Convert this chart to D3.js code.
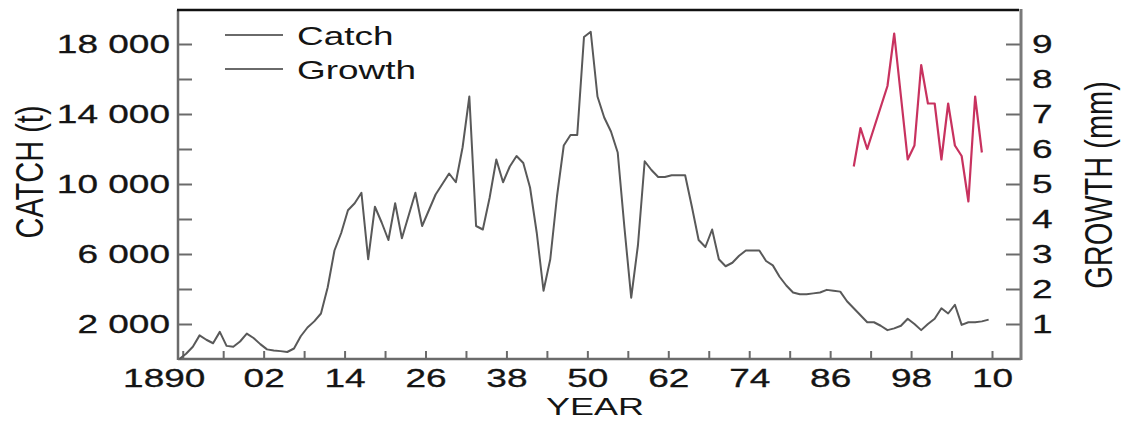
<!DOCTYPE html>
<html>
<head>
<meta charset="utf-8">
<script src="https://cdn.jsdelivr.net/npm/d3@7"></script>
<style>
  html, body { margin: 0; padding: 0; background: #fff; }
  svg { display: block; font-family: "Liberation Sans", Arial, sans-serif; }
</style>
</head>
<body>
<svg id="chart" width="1121" height="421"></svg>
<script>
// Annual catch (tonnes), 1889–2009
const catchYears = [
  1889,
  1890, 1891, 1892, 1893, 1894, 1895, 1896, 1897, 1898, 1899,
  1900, 1901, 1902, 1903, 1904, 1905, 1906, 1907, 1908, 1909,
  1910, 1911, 1912, 1913, 1914, 1915, 1916, 1917, 1918, 1919,
  1920, 1921, 1922, 1923, 1924, 1925, 1926, 1927, 1928, 1929,
  1930, 1931, 1932, 1933, 1934, 1935, 1936, 1937, 1938, 1939,
  1940, 1941, 1942, 1943, 1944, 1945, 1946, 1947, 1948, 1949,
  1950, 1951, 1952, 1953, 1954, 1955, 1956, 1957, 1958, 1959,
  1960, 1961, 1962, 1963, 1964, 1965, 1966, 1967, 1968, 1969,
  1970, 1971, 1972, 1973, 1974, 1975, 1976, 1977, 1978, 1979,
  1980, 1981, 1982, 1983, 1984, 1985, 1986, 1987, 1988, 1989,
  1990, 1991, 1992, 1993, 1994, 1995, 1996, 1997, 1998, 1999,
  2000, 2001, 2002, 2003, 2004, 2005, 2006, 2007, 2008, 2009
];
const catchValues = [
  0,
  300, 700, 1350, 1100, 900, 1550, 750, 700, 1000, 1450,
  1200, 850, 550, 480, 450, 400, 600, 1300, 1800, 2150,
  2600, 4100, 6200, 7200, 8500, 8900, 9500, 5700, 8700, 7800,
  6800, 8900, 6900, 8200, 9500, 7600, 8500, 9400, 10000, 10600,
  10100, 12100, 15000, 7600, 7400, 9200, 11400, 10100, 11000, 11600,
  11200, 9800, 7200, 3900, 5700, 9300, 12200, 12800, 12800, 18400,
  18700, 15000, 13800, 13000, 11800, 7500, 3500, 6500, 11300, 10800,
  10400, 10400, 10500, 10500, 10500, 8700, 6800, 6400, 7400, 5700,
  5300, 5500, 5900, 6200, 6200, 6200, 5600, 5350, 4700, 4200,
  3800, 3700, 3700, 3750, 3800, 3950, 3900, 3850, 3300, 2900,
  2500, 2100, 2100, 1900, 1650, 1750, 1900, 2300, 2000, 1650,
  2000, 2300, 2900, 2600, 3100, 1950, 2100, 2100, 2150, 2250
];

// Annual growth increment (mm), 1989–2008
const growthYears = [
  1989, 1990, 1991, 1992, 1993, 1994, 1995, 1996, 1997, 1998,
  1999, 2000, 2001, 2002, 2003, 2004, 2005, 2006, 2007, 2008
];
const growthValues = [
  5.5, 6.6, 6.0, 6.6, 7.2, 7.8, 9.3, 7.5, 5.7, 6.1,
  8.4, 7.3, 7.3, 5.7, 7.3, 6.1, 5.8, 4.5, 7.5, 5.9
];

// Axis ticks
const yearTicks = [1890, 1896, 1902, 1908, 1914, 1920, 1926, 1932, 1938, 1944, 1950,
                   1956, 1962, 1968, 1974, 1980, 1986, 1992, 1998, 2004, 2010];
const yearLabelled = [1890, 1902, 1914, 1926, 1938, 1950, 1962, 1974, 1986, 1998, 2010];
const catchTicks = [2000, 4000, 6000, 8000, 10000, 12000, 14000, 16000, 18000];
const catchLabelled = [2000, 6000, 10000, 14000, 18000];
const growthTicks = [1, 2, 3, 4, 5, 6, 7, 8, 9];

const legendItems = ["Catch", "Growth"];

// ---- layout ----
const plotL = 178, plotR = 1021, plotT = 10, plotB = 359;
const SX = 1.48;          // horizontal text stretch
const AXIS = "#6b6b6b", INK = "#141414";

const svg = d3.select("#chart");

const x = d3.scaleLinear().domain([1889.3, 2014.3]).range([plotL, plotR]);
const yC = d3.scaleLinear().domain([0, 20000]).range([plotB, plotT - 1]);
const yG = d3.scaleLinear().domain([0, 10]).range([plotB, plotT - 1]);
// annual values are placed at mid-year
const xMid = yr => x(yr + 0.5);

const spaceFmt = d3.formatLocale({ decimal: ".", thousands: " ", grouping: [3], currency: ["", ""] }).format(",");

// ---- axes ----
const gx = svg.append("g").attr("transform", `translate(0,${plotB})`)
  .call(d3.axisBottom(x).tickValues(yearTicks).tickSizeInner(-8).tickSizeOuter(0)
    .tickFormat(d => yearLabelled.includes(d) ? (d === 1890 ? "1890" : d3.format("02")(d % 100)) : ""));

const gl = svg.append("g").attr("transform", `translate(${plotL},0)`)
  .call(d3.axisLeft(yC).tickValues(catchTicks).tickSizeInner(-14).tickSizeOuter(0)
    .tickFormat(d => catchLabelled.includes(d) ? spaceFmt(d) : ""));

const gr = svg.append("g").attr("transform", `translate(${plotR},0)`)
  .call(d3.axisRight(yG).tickValues(growthTicks).tickSizeInner(-15).tickSizeOuter(0)
    .tickFormat(d3.format("d")));

[gx, gl, gr].forEach(g => {
  g.select(".domain").remove();
  g.selectAll(".tick line").attr("stroke", AXIS).attr("stroke-width", 2);
  g.selectAll(".tick text").attr("fill", INK).style("font-size", "25px")
    .attr("stroke", INK).attr("stroke-width", 0.3)
    .attr("x", null).attr("y", null).attr("dy", null);
});

gx.selectAll(".tick text")
  .attr("text-anchor", "middle")
  .attr("transform", d => `translate(${d === 1890 ? -19 : 0},28) scale(${SX},1)`);
gl.selectAll(".tick text")
  .attr("text-anchor", "end").attr("dy", "0.35em")
  .attr("transform", `translate(-8,0) scale(${SX},1)`);
gr.selectAll(".tick text")
  .attr("text-anchor", "start").attr("dy", "0.35em")
  .attr("transform", `translate(11,0) scale(${SX},1)`);

// ---- frame ----
svg.append("line").attr("x1", plotL).attr("x2", plotL).attr("y1", plotT).attr("y2", plotB + 1)
  .attr("stroke", AXIS).attr("stroke-width", 2.5);
svg.append("line").attr("x1", plotL).attr("x2", plotR).attr("y1", plotB).attr("y2", plotB)
  .attr("stroke", AXIS).attr("stroke-width", 2.5);
svg.append("line").attr("x1", plotR).attr("x2", plotR).attr("y1", plotT - 1).attr("y2", plotB + 1)
  .attr("stroke", "#7a7a7a").attr("stroke-width", 3);
svg.append("line").attr("x1", plotL - 1).attr("x2", plotR - 2).attr("y1", plotT).attr("y2", plotT)
  .attr("stroke", "#111").attr("stroke-width", 2.5);

// ---- series ----
const catchLine = d3.line().x((d, i) => xMid(catchYears[i])).y(d => yC(d));
svg.append("path").datum(catchValues)
  .attr("d", catchLine).attr("fill", "none")
  .attr("stroke", "#595959").attr("stroke-width", 2).attr("stroke-linejoin", "round");

const growthLine = d3.line().x((d, i) => xMid(growthYears[i])).y(d => yG(d));
svg.append("path").datum(growthValues)
  .attr("d", growthLine).attr("fill", "none")
  .attr("stroke", "#c8325f").attr("stroke-width", 2.2).attr("stroke-linejoin", "round");

// ---- legend ----
const legend = svg.append("g");
legendItems.forEach((name, i) => {
  const cy = 35 + i * 34;
  legend.append("line").attr("x1", 225).attr("x2", 283).attr("y1", cy).attr("y2", cy)
    .attr("stroke", "#6a6a6a").attr("stroke-width", 2);
  legend.append("text").text(name).attr("fill", INK).style("font-size", "26px")
    .attr("transform", `translate(297,${cy + 10}) scale(1.42,1)`);
});

// ---- axis titles ----
svg.append("text").text("CATCH (t)").attr("fill", INK).style("font-size", "29px")
  .attr("text-anchor", "middle")
  .attr("transform", `translate(43,172) scale(1.35,1) rotate(-90)`);
svg.append("text").text("GROWTH (mm)").attr("fill", INK).style("font-size", "29px")
  .attr("text-anchor", "middle")
  .attr("transform", `translate(1112,185) scale(1.35,1) rotate(-90)`);
svg.append("text").text("YEAR").attr("fill", INK).style("font-size", "24px")
  .attr("text-anchor", "middle")
  .attr("transform", `translate(595,415) scale(1.5,1)`);
</script>
</body>
</html>
